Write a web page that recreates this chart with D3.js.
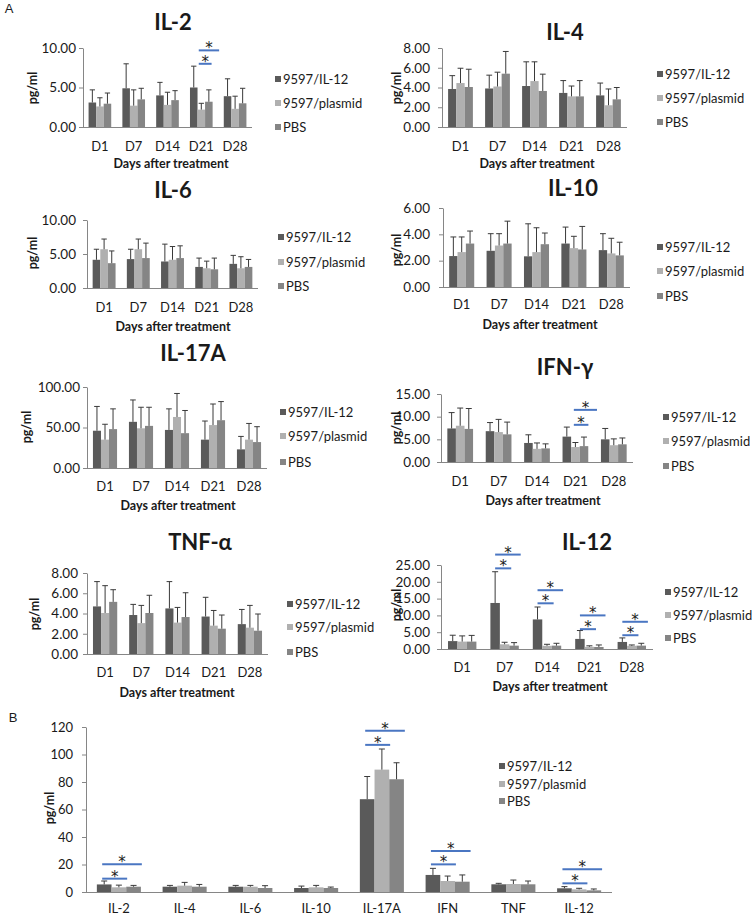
<!DOCTYPE html>
<html><head><meta charset="utf-8">
<script src="https://cdn.jsdelivr.net/npm/d3@7"></script>
<style>
body{margin:0;background:#fff}
svg{display:block}
text{font-family:Lato,"Open Sans",sans-serif;fill:#1a1a1a}
</style>
</head><body>
<svg id="c" width="753" height="916"></svg>
<script>
// ---------- categories ----------
const DAYS = ["D1","D7","D14","D21","D28"];
const GROUPS = ["9597/IL-12","9597/plasmid","PBS"];
const CYTOKINES_B = ["IL-2","IL-4","IL-6","IL-10","IL-17A","IFN","TNF","IL-12"];

// ---------- values: per category [9597/IL-12, 9597/plasmid, PBS] ----------
const il2Mean = [[3.1,2.6,2.95],[4.9,2.7,3.5],[4.0,2.8,3.4],[5.0,2.2,3.2],[3.9,2.3,3.0]];
const il2Sd   = [[1.6,1.1,1.35],[3.1,2.0,1.4],[1.65,1.6,1.2],[2.7,0.8,1.5],[2.2,1.6,1.9]];
const il4Mean = [[3.85,4.45,4.05],[3.9,4.1,5.4],[4.15,4.65,3.65],[3.45,3.1,3.1],[3.2,2.2,2.8]];
const il4Sd   = [[1.35,1.5,1.8],[1.35,1.45,2.25],[2.45,1.95,1.7],[1.25,1.05,1.6],[1.25,1.65,1.2]];
const il6Mean = [[4.15,5.7,3.65],[4.25,5.7,4.4],[3.9,4.15,4.4],[3.1,2.9,2.75],[3.55,2.9,3.1]];
const il6Sd   = [[1.55,1.5,1.8],[1.45,1.5,2.2],[2.55,1.95,1.8],[1.3,1.05,1.65],[1.25,1.7,1.1]];
const il10Mean = [[2.35,2.65,3.3],[2.75,3.15,3.3],[2.33,2.65,3.25],[3.3,2.95,2.85],[2.8,2.55,2.4]];
const il10Sd   = [[1.45,1.15,0.95],[1.3,0.9,1.7],[2.47,1.85,0.85],[1.25,0.9,1.75],[1.25,1.15,1.0]];
const il17Mean = [[46,35,48],[57,49,52],[47,63,43],[35,53,59],[23,35,32]];
const il17Sd   = [[30,19,25],[27,26,23],[26,29,28],[23,26,23],[16,20,19]];
const ifnMean = [[7.4,8.0,7.3],[6.8,6.6,6.1],[4.2,2.9,3.0],[5.6,3.3,3.5],[5.0,3.7,3.9]];
const ifnSd   = [[3.5,3.9,4.5],[1.9,2.8,2.7],[1.8,1.3,1.0],[2.1,1.0,2.0],[2.4,1.4,1.4]];
const tnfMean = [[4.7,4.05,5.15],[3.85,3.05,4.05],[4.5,3.1,3.65],[3.7,2.8,2.5],[2.95,2.6,2.3]];
const tnfSd   = [[2.45,2.7,1.2],[1.05,1.75,1.75],[2.65,1.5,2.4],[1.9,1.5,1.35],[1.45,2.2,1.65]];
const il12Mean = [[2.35,2.2,2.2],[13.7,1.4,1.0],[8.8,0.95,1.0],[3.0,0.65,0.6],[2.1,0.95,1.0]];
const il12Sd   = [[1.75,1.7,1.85],[9.3,0.6,0.9],[3.7,0.45,0.7],[2.5,0.3,0.6],[1.2,0.25,0.7]];
const bMean = [[5.5,3.4,3.85],[3.85,4.6,3.85],[3.85,3.85,2.9],[2.9,3.4,2.9],[67.5,89,82],[12.4,8.0,7.5],[5.6,5.8,5.6],[2.7,1.9,1.2]];
const bSd   = [[2.5,1.6,0.95],[0.95,2.4,1.65],[0.95,0.95,1.7],[1.4,1.4,0.7],[16.5,15,12],[4.8,3.6,4.9],[0.7,2.9,2.4],[1.2,0.8,1.0]];

// ---------- significance marks: [category index, compared group index, level] ----------
const il2Sig  = [[3,1,8.0],[3,2,9.7]];
const ifnSig  = [[3,1,8.2],[3,2,11.5]];
const il12Sig = [[1,1,24.0],[1,2,28.1],[2,1,13.6],[2,2,17.5],[3,1,5.9],[3,2,10.0],[4,1,4.1],[4,2,8.1]];
const bSig    = [[0,1,9.7],[0,2,20.1],[4,1,107],[4,2,117.3],[5,1,20.1],[5,2,29.8],[7,1,6.3],[7,2,16.5]];

// ---------- y tick values ----------
const il2Ticks = [0,5,10];
const il4Ticks = [0,2,4,6,8];
const il6Ticks = [0,5,10];
const il10Ticks = [0,2,4,6];
const il17Ticks = [0,50,100];
const ifnTicks = [0,5,10,15];
const tnfTicks = [0,2,4,6,8];
const il12Ticks = [0,5,10,15,20,25];
const bTicks = [0,20,40,60,80,100,120];

const COLORS = ["#5a5a5a","#b0b0b0","#858585"];

const panels = [
 {title:"IL-2", cats:DAYS, mean:il2Mean, sd:il2Sd, sig:il2Sig, sigShift:5, ticks:il2Ticks, fmt:".2f", x0:83,x1:252,yTop:48,y0:127, tx:173,ty:22, legX:275, legY:[79,103,127], xtx:171,xty:164, ytx:33,yty:88, catY:146, tickRight:76, tfs:13.5},
 {title:"IL-4", cats:DAYS, mean:il4Mean, sd:il4Sd, sig:[], sigShift:0, ticks:il4Ticks, fmt:".2f", x0:442,x1:627,yTop:48,y0:127, tx:565,ty:32, legX:657, legY:[74,98,122], xtx:537,xty:164, ytx:397,yty:88, catY:146, tickRight:430, tfs:13.5},
 {title:"IL-6", cats:DAYS, mean:il6Mean, sd:il6Sd, sig:[], sigShift:0, ticks:il6Ticks, fmt:".2f", x0:87,x1:258,yTop:220,y0:288, tx:173,ty:190, legX:278, legY:[237,262,286], xtx:173,xty:327, ytx:33,yty:253, catY:307, tickRight:76, tfs:13.5},
 {title:"IL-10", cats:DAYS, mean:il10Mean, sd:il10Sd, sig:[], sigShift:0, ticks:il10Ticks, fmt:".2f", x0:443,x1:630,yTop:208,y0:287, tx:573,ty:188, legX:657, legY:[247,271,296], xtx:540,xty:325, ytx:397,yty:250, catY:304, tickRight:430, tfs:13.5},
 {title:"IL-17A", cats:DAYS, mean:il17Mean, sd:il17Sd, sig:[], sigShift:0, ticks:il17Ticks, fmt:".2f", x0:87,x1:267,yTop:387,y0:468, tx:193,ty:353, legX:280, legY:[412,436,462], xtx:178,xty:506, ytx:27,yty:427, catY:486, tickRight:80, tfs:13.5},
 {title:"IFN-γ", cats:DAYS, mean:ifnMean, sd:ifnSd, sig:ifnSig, sigShift:7, ticks:ifnTicks, fmt:".2f", x0:441,x1:633,yTop:394,y0:462, tx:565,ty:367, legX:663, legY:[417,441,466], xtx:543,xty:501, ytx:397,yty:428, catY:481, tickRight:430, tfs:13.5},
 {title:"TNF-α", cats:DAYS, mean:tnfMean, sd:tnfSd, sig:[], sigShift:0, ticks:tnfTicks, fmt:".2f", x0:87,x1:268,yTop:573,y0:654, tx:200,ty:542, legX:287, legY:[604,627,652], xtx:177,xty:693, ytx:35,yty:614, catY:672, tickRight:78, tfs:13.5},
 {title:"IL-12", cats:DAYS, mean:il12Mean, sd:il12Sd, sig:il12Sig, sigShift:0, ticks:il12Ticks, fmt:".2f", x0:441,x1:653,yTop:565,y0:649, tx:587,ty:542, legX:665, legY:[592,615,638], xtx:550,xty:687, ytx:397,yty:605, catY:667, tickRight:430, tfs:13.5},
 {title:null, cats:CYTOKINES_B, mean:bMean, sd:bSd, sig:bSig, sigShift:-2, ticks:bTicks, fmt:"d", x0:86,x1:612,yTop:727,y0:892, legX:499, legY:[766,784,801], xtx:null, ytx:50,yty:808, catY:908, tickRight:73, tfs:13}
];

const svg = d3.select("#c");
svg.append("rect").attr("width",753).attr("height",916).attr("fill","#fff");

function drawPanel(p){
  const g = svg.append("g");
  const x = d3.scaleBand().domain(p.cats).range([p.x0,p.x1]);
  const gw = x.bandwidth()*0.67;
  const xi = d3.scaleBand().domain(GROUPS).range([0,gw]);
  const bw = xi.bandwidth();
  const off = (x.bandwidth()-gw)/2;
  const ymax = p.ticks[p.ticks.length-1];
  const y = d3.scaleLinear().domain([0,ymax]).range([p.y0,p.yTop]);

  // y axis
  const ay = g.append("g").attr("transform",`translate(${p.x0},0)`)
    .call(d3.axisLeft(y).tickValues(p.ticks).tickFormat(d3.format(p.fmt)).tickSize(4).tickSizeOuter(0).tickPadding(p.x0-p.tickRight-4));
  ay.select(".domain").attr("stroke","#868686");
  ay.selectAll(".tick line").attr("stroke","#868686");
  ay.selectAll(".tick text").style("font-family","Lato,sans-serif").style("font-size",p.tfs+"px").attr("fill","#1a1a1a");

  // bars
  const flat = [];
  p.cats.forEach((c,i)=>GROUPS.forEach((s,j)=>flat.push({c,s,j,v:p.mean[i][j],e:p.sd[i][j]})));
  g.selectAll("rect.bar").data(flat).enter().append("rect").attr("class","bar")
    .attr("x",d=>x(d.c)+off+xi(d.s)).attr("width",bw)
    .attr("y",d=>y(d.v)).attr("height",d=>p.y0-y(d.v))
    .attr("fill",d=>COLORS[d.j]);
  // error bars (upper only)
  const cap = Math.min(6, bw*0.7);
  const cx = d=>x(d.c)+off+xi(d.s)+bw/2;
  const eg = g.selectAll("g.err").data(flat).enter().append("g").attr("class","err");
  eg.append("line").attr("x1",cx).attr("x2",cx)
    .attr("y1",d=>y(d.v)).attr("y2",d=>y(d.v+d.e)).attr("stroke","#3a3a3a").attr("stroke-width",1);
  eg.append("line").attr("x1",d=>cx(d)-cap/2).attr("x2",d=>cx(d)+cap/2)
    .attr("y1",d=>y(d.v+d.e)).attr("y2",d=>y(d.v+d.e)).attr("stroke","#3a3a3a").attr("stroke-width",1);

  // x axis line
  g.append("line").attr("x1",p.x0).attr("x2",p.x1).attr("y1",p.y0+0.5).attr("y2",p.y0+0.5).attr("stroke","#868686");

  // category labels
  g.selectAll("text.cat").data(p.cats).enter().append("text").attr("class","cat")
    .attr("x",d=>x(d)+x.bandwidth()/2).attr("y",p.catY).attr("dy","0.35em")
    .attr("text-anchor","middle").style("font-size","13px").text(d=>d);

  // significance marks
  p.sig.forEach(([ci,gj,lv])=>{
    const c = p.cats[ci];
    const xs = x(c)+off+xi(GROUPS[0])+bw*0.5+p.sigShift;
    const xe = x(c)+off+xi(GROUPS[gj])+bw*1.2+p.sigShift;
    g.append("line").attr("x1",xs).attr("x2",xe).attr("y1",y(lv)).attr("y2",y(lv))
      .attr("stroke","#4a76c2").attr("stroke-width",2);
    g.append("text").attr("x",(xs+xe)/2).attr("y",y(lv)+3).attr("text-anchor","middle")
      .style("font-family","'DejaVu Sans',sans-serif").style("font-size","15px").attr("fill","#333").text("*");
  });

  // title
  if(p.title){
    g.append("text").attr("x",p.tx).attr("y",p.ty).attr("dy","0.35em").attr("text-anchor","middle")
      .style("font-size","22px").style("font-weight","bold").attr("fill","#000").text(p.title);
  }
  // x title
  if(p.xtx){
    g.append("text").attr("x",p.xtx).attr("y",p.xty).attr("dy","0.35em").attr("text-anchor","middle")
      .style("font-size","12.5px").style("font-weight","bold").text("Days after treatment");
  }
  // y title
  g.append("text").attr("transform",`translate(${p.ytx},${p.yty}) rotate(-90)`).attr("dy","0.35em")
    .attr("text-anchor","middle").style("font-size","12.5px").style("font-weight","bold").text("pg/ml");

  // legend
  const lg = g.selectAll("g.leg").data(GROUPS).enter().append("g").attr("class","leg")
    .attr("transform",(d,i)=>`translate(${p.legX},${p.legY[i]})`);
  lg.append("rect").attr("x",0).attr("y",-3).attr("width",6).attr("height",6).attr("fill",(d,i)=>COLORS[i]);
  lg.append("text").attr("x",8).attr("y",0).attr("dy","0.35em").style("font-size","13px").text(d=>d);
}

panels.forEach(drawPanel);

svg.append("text").attr("x",9).attr("y",8).attr("dy","0.35em").attr("text-anchor","middle")
  .style("font-family","'Liberation Sans',Arial,sans-serif").style("font-size","13px").text("A");
svg.append("text").attr("x",13).attr("y",717).attr("dy","0.35em").attr("text-anchor","middle")
  .style("font-family","'Liberation Sans',Arial,sans-serif").style("font-size","13px").text("B");
</script>
</body></html>
